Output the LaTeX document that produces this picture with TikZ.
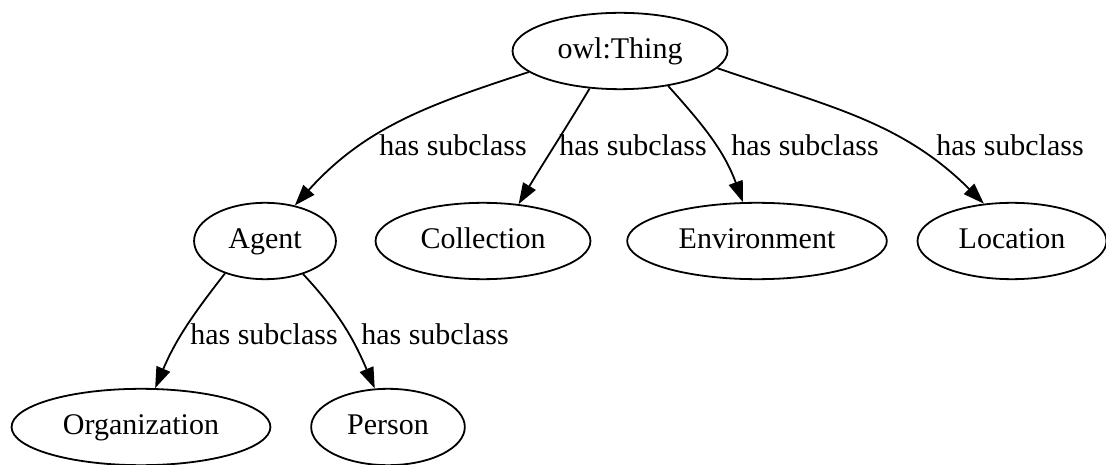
\documentclass[tikz,border=0pt]{standalone}
\usepackage{fontspec}
\setmainfont{Liberation Serif}
\usetikzlibrary{shapes.geometric,arrows.meta}
\begin{document}
\begin{tikzpicture}[x=1pt, y=1pt, line join=round, >={Triangle[length=21pt, width=14.5pt]},
	cls/.style={draw, ellipse, line width=1.8pt, inner sep=13.5pt, text height=21.4pt, text depth=5.6pt, font=\fontsize{30}{36}\selectfont},
	sublabel/.style={inner sep=0pt, font=\fontsize{30}{36}\selectfont},
	subedge/.style={->, line width=1.8pt}]
	\useasboundingbox[fill=white] (0,0) rectangle (1106,464);
	\def\RowA{413}   
	\def\RowB{223}   
	\def\RowC{37}    
	% classes
	\node[cls] (thing) at (620,\RowA) {owl:Thing};
	\node[cls] (agent) at (265,\RowB) {Agent};
	\node[cls] (collection) at (483,\RowB) {Collection};
	\node[cls] (environment) at (757,\RowB) {Environment};
	\node[cls] (location) at (1012,\RowB) {Location};
	\node[cls] (organization) at (141,\RowC) {Organization};
	\node[cls] (person) at (388,\RowC) {Person};
	% subclass links
	\foreach \kid/\src/\dst/\o/\i/\lx/\ly in {
		agent/thing.193/agent.50/198/48/453/319,
		collection/thing.231/collection.46/239/59/633/319,
		environment/thing.324/environment.110/312/110/805/319,
		location/thing.350/location.127/341/135/1010/319,
		organization/agent.219/organization.70/232/67/264/130,
		person/agent.319/person.109/313/113/435/130}{
		\draw[subedge] (\src) to[out=\o, in=\i] (\dst);
		\node[sublabel] (lbl-\kid) at (\lx,\ly) {has subclass};
	}
\end{tikzpicture}
\end{document}
